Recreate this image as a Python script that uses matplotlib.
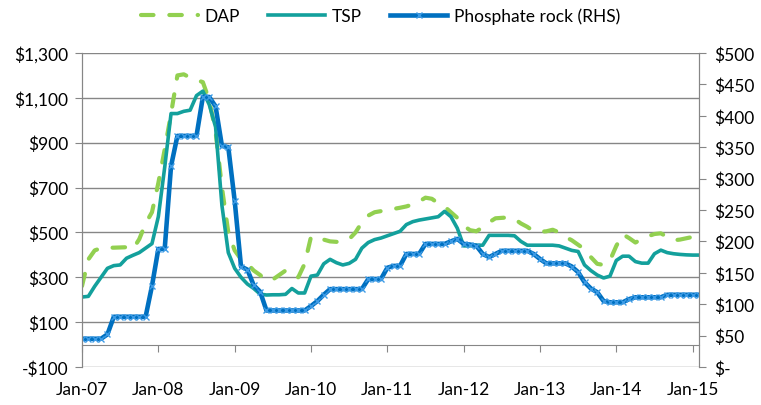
import matplotlib
matplotlib.use('Agg')
import matplotlib.pyplot as pyplot
import numpy

# Monthly prices, Jan-07 .. Feb-15 (US$/t)
dap = [261, 380, 420, 430, 432, 432, 433, 434, 425, 470, 540, 590,
       720, 870, 1030, 1200, 1205, 1190, 1180, 1170, 1090, 950, 700, 500,
       420, 380, 360, 330, 310, 285, 290, 310, 330, 305, 300, 360,
       480, 480, 468, 460, 458, 460, 470, 500, 545, 575, 590, 595,
       600, 605, 610, 616, 625, 638, 655, 650, 630, 615, 590, 565,
       530, 510, 505, 523, 545, 563, 565, 567, 560, 540, 525, 505,
       503, 505, 512, 500, 480, 465, 445, 425, 390, 360, 355, 375,
       440, 492, 475, 455, 470, 483, 493, 496, 480, 465, 468, 474,
       480, 487]
tsp = [212, 215, 260, 300, 340, 352, 355, 385, 398, 410, 430, 450,
       570, 790, 1030, 1030, 1040, 1045, 1110, 1130, 1070, 970, 620, 410,
       340, 300, 270, 250, 225, 221, 222, 222, 224, 250, 230, 230,
       305, 310, 360, 380, 365, 355, 362, 380, 430, 455, 468, 475,
       485, 495, 505, 535, 548, 555, 560, 565, 570, 594, 570, 519,
       440, 440, 443, 443, 487, 487, 487, 487, 485, 460, 443, 443,
       443, 443, 443, 440, 430, 420, 415, 355, 330, 310, 297, 305,
       375, 394, 394, 370, 363, 363, 405, 421, 410, 405, 402, 400,
       399, 399]
rock = [45, 45, 45, 45, 52, 80, 80, 80, 80, 80, 80, 129,
        188, 188, 320, 368, 368, 368, 368, 430, 430, 415, 352, 350,
        265, 160, 155, 130, 120, 90, 90, 90, 90, 90, 90, 90,
        97, 105, 115, 124, 124, 124, 124, 124, 124, 140, 140, 140,
        158, 161, 161, 180, 180, 180, 196, 196, 196, 196, 200, 204,
        196, 195, 193, 180, 175, 180, 185, 185, 185, 185, 185, 180,
        172, 165, 165, 165, 165, 160, 151, 135, 125, 119, 105, 103,
        103, 103, 108, 111, 111, 111, 111, 111, 115, 115, 115, 115,
        115, 115]

year_labels = ['Jan-07', 'Jan-08', 'Jan-09', 'Jan-10', 'Jan-11',
               'Jan-12', 'Jan-13', 'Jan-14', 'Jan-15']
left_ticks = [-100, 100, 300, 500, 700, 900, 1100, 1300]
right_ticks = [0, 50, 100, 150, 200, 250, 300, 350, 400, 450, 500]

pyplot.rcParams['font.family'] = ['Lato', 'DejaVu Sans']
pyplot.rcParams['font.size'] = 12.5

months = numpy.arange(len(dap))
grey = '#868686'

fig = pyplot.figure(figsize=(7.61, 4.06), dpi=100)
ax = fig.add_axes([82 / 761, 1 - 368 / 406, (699 - 82) / 761, (368 - 54) / 406])
ax2 = ax.twinx()

l_dap, = ax.plot(months, dap, color='#92D050', lw=3, linestyle=(0, (3.0, 3.8)),
                 dash_capstyle='round', label='DAP')
l_tsp, = ax.plot(months, tsp, color='#13A09C', lw=2.6, label='TSP')
l_rock, = ax2.plot(months, rock, color='#0070C0', lw=3.3, marker='x', markersize=4.5,
                   markeredgecolor='#3D9BE6', markeredgewidth=1.0,
                   label='Phosphate rock (RHS)')

# left axis
ax.set_ylim(-100, 1300)
ax.set_yticks(left_ticks)
ax.set_yticklabels(['-$100' if v < 0 else '${:,}'.format(v) for v in left_ticks])
ax.grid(axis='y', color=grey, lw=1)
ax.set_axisbelow(True)

# x axis crosses at zero, labels stay at the bottom
ax.set_xlim(0, len(dap) - 1)
ax.set_xticks(months[::12])
ax.set_xticklabels(year_labels)
ax.spines['bottom'].set_position(('data', 0))
ax.tick_params(axis='x', direction='out', length=5, color=grey, pad=21)
ax.tick_params(axis='y', direction='out', length=5, color=grey, pad=5)

# right axis
ax2.set_ylim(0, 500)
ax2.set_yticks(right_ticks)
ax2.set_yticklabels(['$-' if v == 0 else '${}'.format(v) for v in right_ticks])
ax2.tick_params(axis='y', direction='out', length=5, color=grey, pad=6)

for a in (ax, ax2):
    for spine in a.spines.values():
        spine.set_color(grey)
    a.spines['top'].set_visible(False)
ax2.spines['bottom'].set_visible(False)

fig.legend(handles=[l_dap, l_tsp, l_rock], loc='center', bbox_to_anchor=(0.5, 0.958),
           ncol=3, frameon=False, handlelength=3.3, handletextpad=0.4,
           columnspacing=1.6)

fig.savefig('out.png', dpi=100)
